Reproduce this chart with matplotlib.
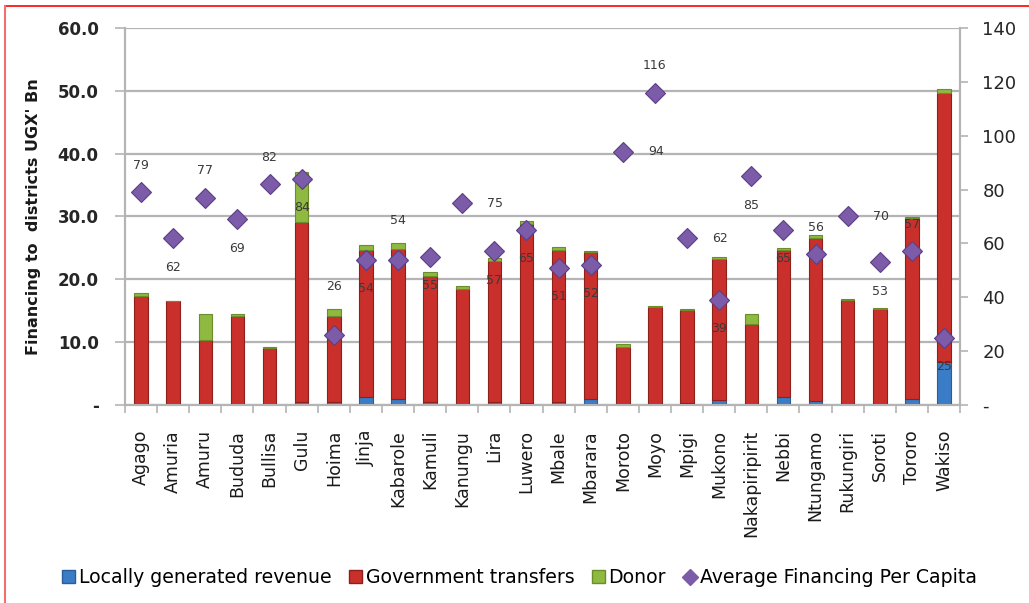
import matplotlib
matplotlib.use("Agg")
import matplotlib.pyplot as plt
import numpy as np
from matplotlib.lines import Line2D
from matplotlib.patches import Patch

# district financing, UGX bn, and financing per capita
districts = ["Agago", "Amuria", "Amuru", "Bududa", "Bullisa", "Gulu", "Hoima",
             "Jinja", "Kabarole", "Kamuli", "Kanungu", "Lira", "Luwero", "Mbale",
             "Mbarara", "Moroto", "Moyo", "Mpigi", "Mukono", "Nakapiripirit",
             "Nebbi", "Ntungamo", "Rukungiri", "Soroti", "Tororo", "Wakiso"]
local_rev = [0.1, 0.1, 0.1, 0.1, 0.1, 0.5, 0.4, 1.3, 1.0, 0.5, 0.2, 0.4, 0.3,
             0.5, 1.0, 0.1, 0.2, 0.3, 0.8, 0.1, 1.2, 0.6, 0.2, 0.2, 1.0, 6.8]
gov_transfers = [17.2, 16.4, 10.2, 14.1, 9.0, 28.6, 13.7, 23.4, 23.9, 20.0,
                 18.2, 22.5, 28.5, 24.1, 23.4, 9.1, 15.4, 14.8, 22.5, 12.8,
                 23.4, 26.0, 16.5, 15.1, 28.7, 42.8]
donor = [0.6, 0.1, 4.2, 0.3, 0.1, 8.0, 1.1, 0.7, 0.8, 0.7, 0.5, 0.5, 0.5,
         0.5, 0.1, 0.5, 0.2, 0.2, 0.2, 1.5, 0.4, 0.4, 0.2, 0.2, 0.2, 0.7]
per_capita = [79, 62, 77, 69, 82, 84, 26, 54, 54, 55, 75, 57, 65, 51, 52, 94,
              116, 62, 39, 85, 65, 56, 70, 53, 57, 25]

# where each value label sits relative to its marker (pixels)
label_pos = ["up", "down", "up", "down", "up", "down", "up2", "down", "up1",
             "down", "right", "down", "down", "down", "down", "right", "up",
             "right", "down", "down", "down", "up", "right", "down", "up", "down"]
offsets = {"up": (0, 27), "up1": (0, 39), "up2": (0, 48), "down": (0, -29),
           "right": (33, 0)}

BLUE = "#3A7CC6"
RED = "#C9302B"
GREEN = "#8FB940"
PURPLE = "#7C5BA8"
GRID = "#B4B4B4"

plt.rcParams["font.family"] = ["DejaVu Sans"]

fig = plt.figure(figsize=(10.29, 6.03), dpi=100)
ax = fig.add_axes([0.1215, 0.3284, 0.8115, 0.6252])
ax2 = ax.twinx()

x = np.arange(len(districts))
w = 0.42
gov_bottom = np.array(local_rev)
donor_bottom = gov_bottom + np.array(gov_transfers)
ax.bar(x, local_rev, w, color=BLUE, edgecolor="#2A5E99", linewidth=0.8, zorder=3)
ax.bar(x, gov_transfers, w, bottom=gov_bottom, color=RED, edgecolor="#8E1F1B",
       linewidth=0.8, zorder=3)
ax.bar(x, donor, w, bottom=donor_bottom, color=GREEN, edgecolor="#6A8E2C",
       linewidth=0.8, zorder=3)

ax.set_xlim(-0.5, len(districts) - 0.5)
ax.set_ylim(0, 60)
ax.set_yticks(np.arange(0, 61, 10))
ax.set_yticklabels(["-"] + ["%.1f" % v for v in range(10, 61, 10)],
                   fontsize=12, fontweight="bold", color="#262626")
ax.yaxis.grid(True, color=GRID, linewidth=1.6, zorder=0)
ax.set_axisbelow(True)

ax.set_xticks(x)
ax.set_xticklabels(districts, rotation=90, fontsize=12.5, color="#1a1a1a")
ax.tick_params(axis="x", which="major", length=0, pad=18)
ax.set_xticks(np.arange(-0.5, len(districts), 1), minor=True)
ax.tick_params(axis="x", which="minor", length=6, width=1.2, color=GRID)
ax.tick_params(axis="y", length=7, width=1.2, color=GRID, pad=12)

ax.set_ylabel("Financing to  districts UGX' Bn", fontsize=11.5,
              fontweight="bold", color="#1a1a1a", labelpad=12)

for a in (ax, ax2):
    a.spines["top"].set_visible(False)
    for s in ("left", "right", "bottom"):
        a.spines[s].set_color(GRID)
        a.spines[s].set_linewidth(1.5)

# per capita markers on the secondary axis
ax2.plot(x, per_capita, linestyle="none", marker="D", markersize=10,
         color=PURPLE, markeredgecolor="#5B3F86", markeredgewidth=0.8, zorder=5)
ax2.set_ylim(0, 140)
ax2.set_yticks(np.arange(0, 141, 20))
ax2.set_yticklabels(["-"] + [str(v) for v in range(20, 141, 20)], fontsize=13,
                    color="#262626")
ax2.tick_params(axis="y", length=6, width=1.2, color=GRID, pad=10)

for xi, v, pos in zip(x, per_capita, label_pos):
    dx, dy = offsets[pos]
    ax2.annotate(str(v), (xi, v), xytext=(dx * 0.72, dy * 0.72),
                 textcoords="offset points", ha="center", va="center",
                 fontsize=9, color="#3a3a3a", zorder=6)

handles = [
    Patch(facecolor=BLUE, edgecolor="#2A5E99"),
    Patch(facecolor=RED, edgecolor="#8E1F1B"),
    Patch(facecolor=GREEN, edgecolor="#6A8E2C"),
    Line2D([], [], linestyle="none", marker="D", markersize=8, color=PURPLE),
]
names = ["Locally generated revenue", "Government transfers", "Donor",
         "Average Financing Per Capita"]
fig.legend(handles, names, loc="center", bbox_to_anchor=(0.505, 0.042), ncol=4,
           frameon=False, handlelength=0.7, handleheight=0.7, handletextpad=0.2,
           columnspacing=0.9, prop={"size": 13.6})

# red frame along top and left edges
fig.add_artist(Line2D([0.005, 1.0], [0.99, 0.99], color="red", linewidth=1.2,
                      transform=fig.transFigure))
fig.add_artist(Line2D([0.005, 0.005], [0.0, 0.99], color="#F07070", linewidth=1.5,
                      transform=fig.transFigure))

fig.savefig("out.png", dpi=100)
